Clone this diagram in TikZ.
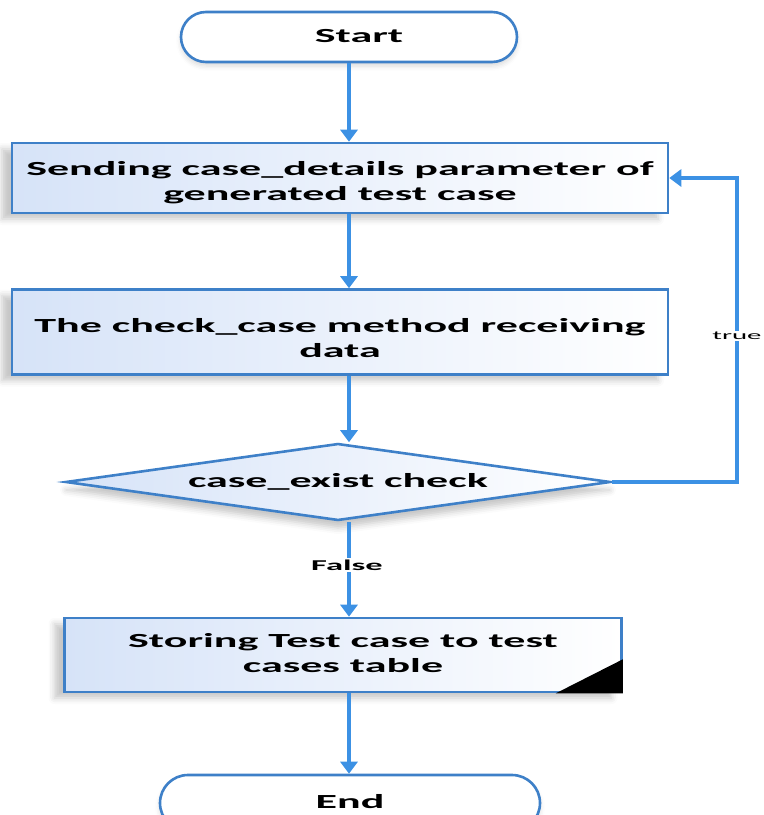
\documentclass[tikz,border=0pt]{standalone}
\usepackage{fontspec}
\setmainfont{Carlito}
\usepackage{graphicx}
\usetikzlibrary{arrows.meta}
\usetikzlibrary{shapes.geometric,shapes.misc}
\usetikzlibrary{shadows.blur}

\definecolor{edgeblue}{RGB}{62,128,200}
\definecolor{flowblue}{RGB}{60,145,228}
\definecolor{fillblue}{RGB}{214,227,248}

% text of the chart is drawn wide
\newcommand{\widetext}[1]{\scalebox{2.2}[1]{\begin{tabular}{@{}c@{}}#1\end{tabular}}}

\begin{document}
\begin{tikzpicture}[x=1pt,y=-1pt]

	\useasboundingbox (0,0) rectangle (764,815);

	\tikzset{
		terminal/.style={rounded rectangle,draw=edgeblue,line width=2.6pt,fill=white,
			minimum width=336pt,minimum height=50pt,inner sep=0pt,
			blur shadow={shadow xshift=0pt,shadow yshift=-4pt,shadow opacity=15,
				shadow blur radius=5pt},
			font=\fontsize{20}{25}\selectfont\bfseries},
		process/.style={rectangle,draw=edgeblue,line width=2.6pt,inner sep=0pt,
			left color=fillblue,right color=white,
			blur shadow={shadow xshift=-10pt,shadow yshift=-6pt,shadow opacity=22,
				shadow blur radius=6pt},
			font=\fontsize{20}{25}\selectfont\bfseries},
		decision/.style={diamond,aspect=7,draw=edgeblue,line width=2.6pt,inner sep=0pt,
			left color=fillblue,right color=white,
			blur shadow={shadow xshift=0pt,shadow yshift=-8pt,shadow opacity=22,
				shadow blur radius=6pt},
			font=\fontsize{20}{25}\selectfont\bfseries},
		flow/.style={draw=flowblue,line width=3.4pt,
			-{Triangle[width=17pt,length=12pt]}},
		flowlabel/.style={fill=white,inner sep=1.5pt}
	}

	% shapes
	\node[terminal] (start) at (349,37) {\hspace*{20pt}\widetext{Start}};
	\node[process,minimum width=656pt,minimum height=70pt] (send) at (340,178)
		{\raisebox{-5pt}[\height][\depth]{\widetext{Sending case\_details parameter of\\generated test case}}};
	\node[process,minimum width=656pt,minimum height=85pt] (recv) at (340,332)
		{\raisebox{-8pt}[\height][\depth]{\widetext{The check\_case method receiving\\data}}};
	\node[decision,minimum width=545pt,minimum height=77pt] (check) at (338,482)
		{\widetext{case\_exist check}};
	\node[process,minimum width=557pt,minimum height=74pt] (store) at (343,655)
		{\widetext{Storing Test case to test\\cases table}};
	\fill (store.south east) -- ++(0,-34) -- ++(-67,34) -- cycle;
	\node[terminal,minimum width=380pt,minimum height=56pt] (finish) at (350,803)
		{\widetext{End}};

	% connectors
	\draw[flow] (start.south) -- (start.south |- send.north);
	\draw[flow] (send.south -| start) -- (recv.north -| start);
	\draw[flow] (recv.south -| start) -- (check.north -| start);
	\draw[flow] (check.south -| start) -- (store.north -| start);
	\draw[flow] (store.south -| start) -- (finish.north -| start);

	\coordinate (loop) at (737,482);
	\draw[flow] (check.east) -- (loop) |- (send.east);

	\node[flowlabel,font=\fontsize{15}{17}\selectfont\bfseries] (falselab)
		at (347,565) {\scalebox{2.3}[1]{False}};
	\node[flowlabel,font=\fontsize{12}{14}\selectfont] (truelab)
		at (737,336) {\scalebox{2.4}[1]{true}};

\end{tikzpicture}
\end{document}
